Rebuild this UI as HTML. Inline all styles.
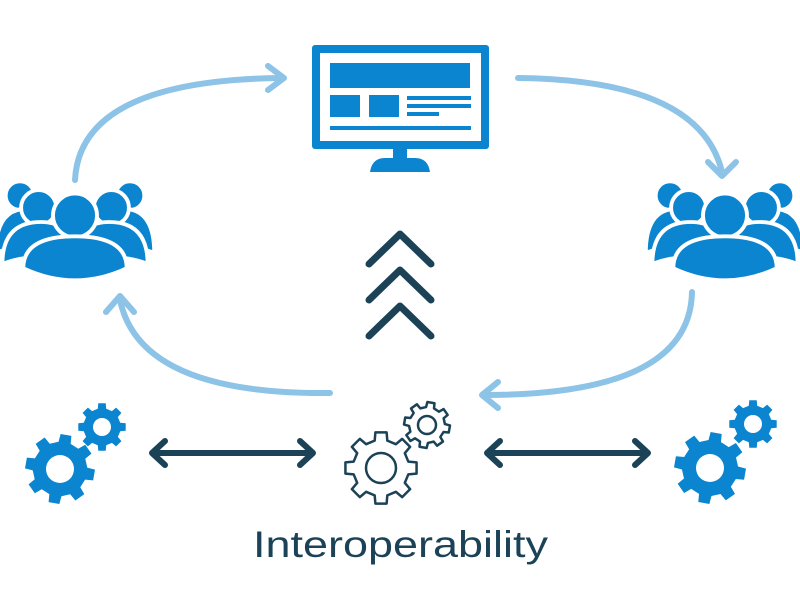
<!DOCTYPE html>
<html><head><style>html,body{margin:0;padding:0;background:#fff;}svg{display:block}</style></head>
<body>
<svg width="800" height="600" viewBox="0 0 800 600" xmlns="http://www.w3.org/2000/svg">
<defs>
<path id="g" vector-effect="non-scaling-stroke" d="M.760,-.1755 L.988,-.156 L.988,.156 L.760,.1755 L.661,.413 L.809,.588 L.588,.809 L.413,.661 L.1755,.760 L.156,.988 L-.156,.988 L-.1755,.760 L-.413,.661 L-.588,.809 L-.809,.588 L-.661,.413 L-.760,.1755 L-.988,.156 L-.988,-.156 L-.760,-.1755 L-.661,-.413 L-.809,-.588 L-.588,-.809 L-.413,-.661 L-.1755,-.760 L-.156,-.988 L.156,-.988 L.1755,-.760 L.413,-.661 L.588,-.809 L.809,-.588 L.661,-.413 Z"/>
<g id="people">
  <g fill="#0b85cf" stroke="#fff" stroke-width="3.5">
    <circle cx="-50" cy="-44" r="13"/>
    <circle cx="50" cy="-44" r="13"/>
    <path d="M-72 8 Q-72 -32 -44 -32 Q-20 -32 -16 -10 L-16 8 Q-46 -2 -72 8 Z"/>
    <path d="M72 8 Q72 -32 44 -32 Q20 -32 16 -10 L16 8 Q46 -2 72 8 Z"/>
    <circle cx="-33" cy="-33" r="16"/>
    <circle cx="33" cy="-33" r="16"/>
    <path d="M-66 18 Q-66 -20 -31 -20 Q-6 -20 0 4 L0 18 Q-34 6 -66 18 Z"/>
    <path d="M66 18 Q66 -20 31 -20 Q6 -20 0 4 L0 18 Q34 6 66 18 Z"/>
    <circle cx="0" cy="-26" r="20"/>
    <path d="M-47 22 Q-47 -7 0 -7 Q47 -7 47 22 Q0 44 -47 22 Z"/>
  </g>
</g>
</defs>

<g fill="none" stroke="#8cc3e6" stroke-width="6" stroke-linecap="round" stroke-linejoin="round">
  <path d="M75 180 Q80 80 282 78"/>
  <path d="M268 66 L284 78 L268 90"/>
  <path d="M518 78 Q700 80 722 172"/>
  <path d="M708 162 L722 176 L736 162"/>
  <path d="M330 393 Q140 395 120 300"/>
  <path d="M106 312 L120 296 L134 312"/>
  <path d="M692 292 Q690 395 484 395"/>
  <path d="M498 382 L482 395 L498 408"/>
</g>

<g fill="#0b85cf">
  <rect x="312" y="45" width="177" height="104" rx="3"/>
  <rect x="320" y="53" width="161" height="88" fill="#fff"/>
  <rect x="330" y="63" width="140" height="25"/>
  <rect x="330" y="95" width="30" height="22"/>
  <rect x="369" y="95" width="30" height="22"/>
  <rect x="407" y="96" width="64" height="4"/>
  <rect x="407" y="104" width="64" height="4"/>
  <rect x="407" y="112" width="32" height="4"/>
  <rect x="330" y="126" width="141" height="4"/>
  <rect x="393" y="148" width="14" height="12"/>
  <path d="M370 172 Q372 158 385 158 L415 158 Q428 158 430 172 Z"/>
</g>

<use href="#people" transform="translate(75,244) scale(1.1)"/>
<use href="#people" transform="translate(725,244) scale(1.1)"/>

<g fill="none" stroke="#1b4257" stroke-width="7" stroke-linecap="round" stroke-linejoin="round">
  <path d="M369 264 L400 234 L431 264"/>
  <path d="M369 300 L400 270 L431 300"/>
  <path d="M369 336 L400 306 L431 336"/>
</g>

<g fill="#0b85cf">
  <use href="#g" transform="translate(60,469) scale(35) rotate(10)"/>
  <use href="#g" transform="translate(102,427) scale(24)"/>
  <use href="#g" transform="translate(710,468) scale(36) rotate(10)"/>
  <use href="#g" transform="translate(753,424) scale(24)"/>
</g>
<g fill="#fff">
  <circle cx="60" cy="469" r="14"/>
  <circle cx="102" cy="427" r="9"/>
  <circle cx="710" cy="468" r="14"/>
  <circle cx="753" cy="424" r="9"/>
</g>

<g fill="#fff" stroke="#1b4257" stroke-width="2.5" stroke-linejoin="round">
  <use href="#g" transform="translate(427,425) scale(23) rotate(10)"/>
  <use href="#g" transform="translate(381,468) scale(36)"/>
  <circle cx="381" cy="468" r="15" fill="none"/>
  <circle cx="427" cy="425" r="9" fill="none"/>
</g>

<g fill="none" stroke="#1b4257" stroke-width="6" stroke-linecap="round" stroke-linejoin="round">
  <path d="M153 453 L312 453"/>
  <path d="M165 441 L152 453 L165 465"/>
  <path d="M300 441 L313 453 L300 465"/>
  <path d="M488 453 L647 453"/>
  <path d="M500 441 L487 453 L500 465"/>
  <path d="M635 441 L648 453 L635 465"/>
</g>

<text x="253" y="557" font-family="Liberation Sans, sans-serif" font-size="37" fill="#1b4257" textLength="295" lengthAdjust="spacingAndGlyphs">Interoperability</text>
</svg>
</body></html>
